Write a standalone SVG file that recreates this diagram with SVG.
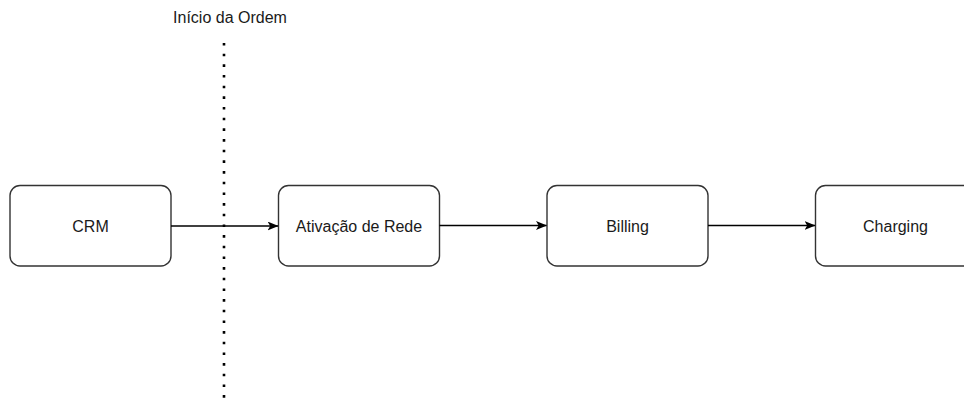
<svg xmlns="http://www.w3.org/2000/svg" width="964" height="401" viewBox="0 0 964 401">
  <style>
    .box { fill: #ffffff; stroke: #333333; stroke-width: 1.4; }
    .lbl { font-family: "Liberation Sans", Arial, sans-serif; font-size: 16px; fill: #1a1a1a; text-anchor: middle; }
    .edge { fill: none; stroke: #000000; stroke-width: 1.4; }
    .divider { fill: none; stroke: #000000; stroke-width: 2.6; stroke-dasharray: 2.6 8.07; }
  </style>
  <defs>
    <marker id="arrow" viewBox="0 0 11 9" refX="10.5" refY="4.5" markerWidth="11" markerHeight="9" markerUnits="userSpaceOnUse" orient="auto">
      <path d="M0,0 L11,4.5 L0,9 L2.7,4.5 Z" fill="#000000"/>
    </marker>
  </defs>
  <rect width="964" height="401" fill="#ffffff"/>

  <!-- order start marker -->
  <g id="order-start">
    <line class="divider" x1="224" y1="43" x2="224" y2="401"/>
    <text class="lbl" x="230" y="23">Início da Ordem</text>
  </g>

  <g id="crm">
    <rect class="box" x="10" y="185.5" width="161" height="80.5" rx="10"/>
    <text class="lbl" x="90.5" y="231.5">CRM</text>
  </g>
  <g id="ativacao">
    <rect class="box" x="278.5" y="185.5" width="161" height="80.5" rx="10"/>
    <text class="lbl" x="359" y="231.5">Ativação de Rede</text>
  </g>
  <g id="billing">
    <rect class="box" x="547" y="185.5" width="161" height="80.5" rx="10"/>
    <text class="lbl" x="627.5" y="231.5">Billing</text>
  </g>
  <g id="charging">
    <rect class="box" x="815.5" y="185.5" width="161" height="80.5" rx="10"/>
    <text class="lbl" x="895.5" y="231.5">Charging</text>
  </g>

  <g id="connectors">
    <line class="edge" x1="171" y1="226" x2="278" y2="226" marker-end="url(#arrow)"/>
    <line class="edge" x1="439.5" y1="225.5" x2="546.5" y2="225.5" marker-end="url(#arrow)"/>
    <line class="edge" x1="708" y1="225.5" x2="815" y2="225.5" marker-end="url(#arrow)"/>
  </g>
</svg>
